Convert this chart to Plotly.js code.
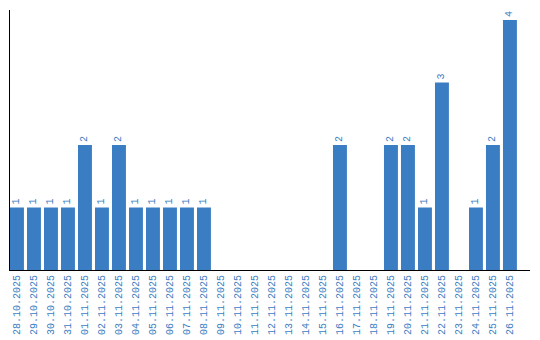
<!DOCTYPE html>
<html>
<head>
<meta charset="utf-8">
<script src="https://cdn.plot.ly/plotly-3.0.1.min.js"></script>
<style>html,body{margin:0;padding:0;background:#fff;}#chart{width:540px;height:340px;}</style>
</head>
<body>
<div id="chart"></div>
<script>
const dates = ["28.10.2025","29.10.2025","30.10.2025","31.10.2025","01.11.2025","02.11.2025","03.11.2025","04.11.2025","05.11.2025","06.11.2025","07.11.2025","08.11.2025","09.11.2025","10.11.2025","11.11.2025","12.11.2025","13.11.2025","14.11.2025","15.11.2025","16.11.2025","17.11.2025","18.11.2025","19.11.2025","20.11.2025","21.11.2025","22.11.2025","23.11.2025","24.11.2025","25.11.2025","26.11.2025"];
const counts = [1,1,1,1,2,1,2,1,1,1,1,1,0,0,0,0,0,0,0,2,0,0,2,2,1,3,0,1,2,4];
const labels = counts.map(v => v > 0 ? String(v) : "");

const blue = "#3b7dc2";
const font = {family: "Liberation Mono, monospace", size: 10, color: blue};

Plotly.newPlot("chart", [{
  type: "bar",
  x: dates,
  y: counts,
  text: labels,
  textposition: "outside",
  textangle: -90,
  constraintext: "none",
  cliponaxis: false,
  textfont: font,
  marker: {color: blue, line: {width: 0}},
  width: 0.82,
  hoverinfo: "none"
}], {
  width: 540, height: 340,
  margin: {l: 10, r: 10, t: 10, b: 70, pad: 0},
  paper_bgcolor: "#fff", plot_bgcolor: "#fff",
  showlegend: false,
  xaxis: {
    type: "category",
    range: [-0.41, 30.18],
    tickangle: -90,
    tickfont: font,
    showline: true, linecolor: "#000", linewidth: 1,
    showgrid: false, zeroline: false, ticks: "", automargin: false
  },
  yaxis: {
    range: [0, 4.16],
    showticklabels: false,
    showline: true, linecolor: "#000", linewidth: 1,
    showgrid: false, zeroline: false, ticks: "", automargin: false
  }
}, {staticPlot: true, displayModeBar: false});
</script>
</body>
</html>
